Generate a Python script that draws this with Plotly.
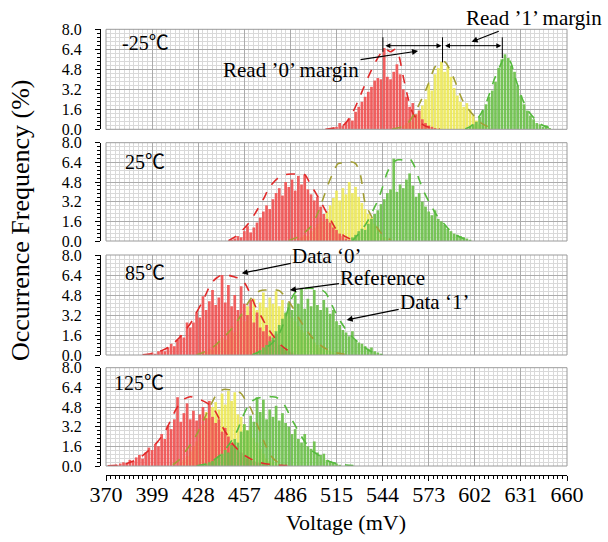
import plotly.graph_objects as go

# ---------------- data ----------------
x_range = [370, 660]
x_tick_step = 29
y_ticks = [0.0, 1.6, 3.2, 4.8, 6.4, 8.0]
panel_labels = ["-25℃", "25℃", "85℃", "125℃"]
bin_w = 2

# -25 C
red_m25_start = 513
red_m25_vals = [0.1, 0.2, 0.5, 0.3, 0.6, 0.9, 0.7, 1.4, 1.8, 2.2, 2.6, 3.0, 3.4, 3.9, 4.1, 4.0, 6.5, 4.2,
                4.0, 4.6, 5.2, 4.4, 3.2, 2.6, 1.8, 2.1, 1.2, 1.5, 0.8, 0.5, 0.3, 0.2, 0.1]
yel_m25_start = 557
yel_m25_vals = [0.3, 0.5, 0.8, 0.6, 1.2, 1.5, 1.9, 2.4, 3.6, 3.1, 4.4, 4.9, 5.4, 4.6, 5.0, 4.2, 3.3, 2.7,
                2.2, 1.8, 2.1, 1.6, 1.1, 0.7, 0.4, 0.3, 0.2, 0.1]
grn_m25_start = 599
grn_m25_vals = [0.2, 0.4, 0.6, 1.0, 1.5, 2.0, 2.6, 3.1, 3.8, 4.9, 5.6, 6.0, 5.7, 5.1, 4.6, 3.5, 2.7, 2.0,
                1.5, 1.1, 0.8, 0.5, 0.4, 0.2, 0.3, 0.1]
red_m25_fit_x = [508, 515, 520, 525, 530, 535, 540, 543, 546, 549, 552, 554, 557, 560, 563, 567, 572, 580]
red_m25_fit_y = [0.0, 0.15, 0.4, 1.3, 2.7, 4.2, 5.5, 6.1, 6.4, 6.2, 6.4, 6.0, 4.2, 2.5, 1.3, 0.6, 0.2, 0.02]
yel_m25_fit_x = [550, 556, 560, 565, 570, 573, 577, 580, 583, 587, 590, 594, 598, 602, 606, 612]
yel_m25_fit_y = [0.02, 0.2, 0.5, 1.5, 2.8, 3.7, 5.0, 5.3, 5.4, 4.6, 3.7, 2.4, 1.6, 1.0, 0.5, 0.1]
grn_m25_fit_x = [596, 600, 604, 607, 610, 614, 618, 621, 624, 628, 632, 636, 640, 645, 652]
grn_m25_fit_y = [0.02, 0.3, 0.9, 1.5, 2.4, 3.9, 5.1, 5.76, 5.5, 3.9, 2.4, 1.4, 0.8, 0.3, 0.05]

# 25 C
red_25_start = 449
red_25_vals = [0.1, 0.2, 0.4, 0.3, 0.8, 1.2, 0.7, 1.1, 1.5, 1.9, 2.4, 2.9, 2.6, 3.4, 3.9, 4.3, 3.7, 4.8,
               4.4, 5.0, 4.1, 5.3, 4.6, 5.4, 4.2, 3.8, 3.3, 3.6, 2.8, 2.2, 1.8, 1.5, 1.1, 0.9, 0.6, 0.4,
               0.2, 0.1]
yel_25_start = 491
yel_25_vals = [0.2, 0.3, 0.5, 0.4, 0.8, 1.1, 1.4, 1.9, 1.6, 2.4, 2.9, 3.5, 4.1, 3.3, 4.3, 3.8, 4.8, 3.9,
               4.4, 3.6, 3.1, 2.6, 2.2, 1.9, 1.4, 1.0, 0.5, 0.3]
grn_25_start = 525
grn_25_vals = [0.3, 0.5, 0.8, 1.0, 0.9, 1.4, 1.8, 2.2, 2.5, 3.0, 3.4, 3.9, 4.2, 6.7, 4.0, 4.6, 4.3, 5.0,
               5.5, 4.5, 3.6, 3.9, 3.2, 2.8, 2.4, 2.1, 2.5, 1.8, 1.6, 1.3, 1.0, 0.8, 0.6, 0.5, 0.4, 0.3,
               0.2, 0.1]
red_25_fit_x = [447, 452, 456, 460, 465, 469, 473, 478, 483, 487, 491, 495, 499, 502, 505, 508, 511, 514,
                517, 520, 524]
red_25_fit_y = [0.02, 0.4, 0.9, 1.5, 2.5, 3.4, 4.4, 5.1, 5.4, 5.45, 5.45, 5.4, 4.5, 3.9, 3.2, 2.5, 1.8,
                1.1, 0.7, 0.4, 0.15]
yel_25_fit_x = [485, 491, 495, 499, 503, 507, 510, 513, 516, 520, 524, 527, 530, 533, 537, 541, 545, 549]
yel_25_fit_y = [0.05, 0.35, 0.7, 1.2, 2.2, 3.6, 4.7, 5.6, 6.3, 6.35, 6.45, 6.3, 5.4, 3.1, 2.0, 1.0, 0.4, 0.1]
grn_25_fit_x = [525, 529, 532, 535, 538, 541, 544, 547, 550, 553, 557, 561, 564, 567, 570, 574, 578, 582,
                586, 590, 595, 600]
grn_25_fit_y = [0.02, 0.6, 1.1, 1.7, 2.5, 3.3, 4.4, 5.6, 6.3, 6.6, 6.6, 6.7, 6.1, 5.0, 4.0, 3.0, 2.1, 1.5,
                0.9, 0.5, 0.2, 0.05]

# 85 C
red_85_start = 397
red_85_vals = [0.1, 0.2, 0.1, 0.3, 0.4, 0.3, 0.6, 0.9, 0.7, 1.2, 1.6, 1.4, 2.6, 2.2, 2.6, 3.4, 3.0, 4.7,
               3.6, 4.3, 5.2, 4.0, 4.6, 6.4, 4.2, 5.6, 3.9, 4.8, 3.6, 5.5, 4.1, 3.2, 4.4, 2.6, 3.4, 2.2,
               1.9, 2.4, 1.5, 1.2, 1.7, 0.8, 0.6, 0.4, 0.3, 0.2]
yel_85_start = 431
yel_85_vals = [0.2, 0.3, 0.5, 0.4, 0.8, 1.0, 1.4, 1.2, 1.9, 2.3, 1.8, 2.8, 3.2, 2.7, 3.9, 3.4, 4.5, 3.6,
               4.2, 5.0, 3.8, 4.6, 4.1, 5.1, 3.9, 4.4, 3.3, 4.1, 3.0, 2.7, 2.3, 2.0, 1.8, 1.4, 1.5, 1.0,
               0.8, 0.6, 0.5, 0.4, 0.3, 0.2, 0.1]
grn_85_start = 465
grn_85_vals = [0.2, 0.4, 0.6, 0.8, 1.1, 1.4, 1.9, 2.4, 2.9, 3.4, 4.2, 3.6, 4.8, 4.1, 5.3, 3.7, 4.5, 3.9,
               5.2, 4.0, 3.6, 4.4, 3.8, 3.3, 3.6, 2.7, 2.4, 2.0, 1.8, 1.5, 1.9, 1.2, 1.0, 0.9, 0.7, 0.5,
               0.6, 0.3, 0.2, 0.1]
red_85_fit_x = [393, 400, 405, 409, 413, 417, 420, 423, 426, 430, 433, 436, 440, 444, 448, 452, 455, 458,
                461, 464, 468, 472, 476, 480, 484, 488]
red_85_fit_y = [0.02, 0.13, 0.35, 0.6, 1.0, 1.5, 2.0, 2.5, 3.2, 4.1, 4.9, 5.7, 6.2, 6.45, 6.35, 6.2, 6.1,
                5.6, 4.8, 3.9, 3.0, 2.1, 1.4, 0.8, 0.4, 0.1]
yel_85_fit_x = [427, 431, 435, 439, 443, 447, 451, 455, 459, 463, 467, 471, 475, 479, 483, 487, 491, 495,
                499, 503, 507, 511, 516, 522]
yel_85_fit_y = [0.02, 0.2, 0.45, 0.8, 1.3, 1.8, 2.4, 3.2, 4.1, 4.8, 5.15, 5.2, 5.2, 5.15, 4.6, 3.9, 3.0,
                2.2, 1.5, 1.0, 0.6, 0.35, 0.15, 0.02]
grn_85_fit_x = [462, 467, 471, 475, 479, 483, 486, 489, 492, 496, 500, 504, 508, 511, 514, 517, 520, 523,
                527, 531, 535, 539, 544]
grn_85_fit_y = [0.02, 0.3, 0.6, 1.0, 1.7, 3.0, 4.3, 5.0, 5.25, 5.33, 5.33, 5.3, 5.0, 4.3, 3.5, 2.8, 2.2,
                1.7, 1.2, 0.8, 0.4, 0.15, 0.02]

# 125 C
red_125_start = 375
red_125_vals = [0.05, 0.1, 0.2, 0.3, 0.2, 0.5, 0.4, 0.7, 0.9, 0.6, 1.1, 1.5, 1.3, 1.8, 1.6, 2.6, 2.2, 3.3,
                3.0, 3.8, 5.6, 3.6, 4.3, 5.1, 3.8, 4.5, 3.7, 4.2, 4.8, 3.9, 5.3, 4.0, 3.5, 3.8, 2.8, 3.1,
                2.4, 1.9, 1.6, 1.3, 1.1, 0.8, 0.6, 0.5, 0.4, 0.3, 0.2, 0.2, 0.1]
yel_125_start = 417
yel_125_vals = [0.3, 0.5, 0.8, 1.2, 1.6, 2.0, 2.6, 3.4, 4.4, 3.9, 4.8, 5.2, 4.6, 5.9, 5.0, 6.1, 5.3, 6.0,
                4.2, 4.0, 3.4, 2.9, 3.2, 2.3, 1.9, 1.4, 1.0, 0.6, 0.4, 0.3, 0.2, 0.1]
grn_125_start = 431
grn_125_vals = [0.1, 0.2, 0.3, 0.4, 0.6, 0.8, 1.0, 1.3, 1.1, 1.7, 2.2, 1.9, 2.8, 3.4, 2.9, 4.1, 3.6, 5.6,
                4.4, 5.4, 3.8, 4.6, 4.0, 4.9, 3.7, 4.3, 3.5, 3.2, 2.6, 3.0, 2.2, 1.9, 2.6, 1.6, 1.4, 2.0,
                1.1, 0.9, 1.0, 0.5, 0.4, 0.3, 0.2, 0.1]
red_125_fit_x = [371, 378, 383, 388, 393, 398, 402, 405, 408, 411, 414, 417, 420, 423, 427, 431, 435, 438,
                 441, 444, 447, 450, 454, 458, 463, 468, 474, 480, 486]
red_125_fit_y = [0.02, 0.08, 0.2, 0.45, 0.85, 1.4, 1.9, 2.4, 3.0, 3.8, 4.6, 5.2, 5.5, 5.64, 5.5, 5.3, 5.0,
                 4.6, 3.9, 3.0, 2.4, 1.75, 1.2, 0.8, 0.45, 0.25, 0.12, 0.05, 0.02]
yel_125_fit_x = [412, 416, 420, 424, 428, 432, 436, 440, 444, 448, 452, 455, 458, 461, 464, 467, 470, 474,
                 478, 482]
yel_125_fit_y = [0.1, 0.5, 1.2, 1.9, 2.8, 3.9, 5.0, 5.9, 6.23, 6.2, 6.1, 5.9, 5.3, 4.7, 3.7, 2.8, 1.8, 0.8,
                 0.3, 0.05]
grn_125_fit_x = [427, 434, 438, 442, 446, 450, 453, 456, 459, 462, 465, 468, 471, 474, 477, 480, 483, 486,
                 489, 492, 495, 499, 503, 507, 511, 516, 521, 528]
grn_125_fit_y = [0.02, 0.2, 0.5, 0.9, 1.5, 2.25, 3.0, 4.0, 4.8, 5.3, 5.5, 5.6, 5.64, 5.64, 5.6, 5.3, 4.8,
                 4.0, 3.3, 2.6, 2.0, 1.3, 0.95, 0.6, 0.35, 0.18, 0.08, 0.02]

# margin markers (-25 C)
margin_x = [544.2, 581.7, 619.3]
margin_bottom = [6.2, 5.35, 5.7]
margin_top = 7.36
margin_arrow_y = 6.69

# ---------------- styling ----------------
RED_BAR, YEL_BAR, GRN_BAR = "#f05252", "#eeea5a", "#6cc04a"
RED_FIT, YEL_FIT, GRN_FIT = "#e02a2a", "#a29e34", "#56ba3e"
SERIF = "Liberation Serif, Times New Roman, Noto Sans CJK SC, serif"

W, H = 608, 542
plot_l, plot_r = 106, 567
panel_px = [(29.3, 129.3), (142.7, 241.0), (255.0, 355.0), (367.7, 466.0)]

panels = [
    [(yel_m25_start, yel_m25_vals, YEL_BAR), (red_m25_start, red_m25_vals, RED_BAR), (grn_m25_start, grn_m25_vals, GRN_BAR)],
    [(yel_25_start, yel_25_vals, YEL_BAR), (red_25_start, red_25_vals, RED_BAR), (grn_25_start, grn_25_vals, GRN_BAR)],
    [(yel_85_start, yel_85_vals, YEL_BAR), (red_85_start, red_85_vals, RED_BAR), (grn_85_start, grn_85_vals, GRN_BAR)],
    [(yel_125_start, yel_125_vals, YEL_BAR), (red_125_start, red_125_vals, RED_BAR), (grn_125_start, grn_125_vals, GRN_BAR)],
]
fits = [
    [(red_m25_fit_x, red_m25_fit_y, RED_FIT), (yel_m25_fit_x, yel_m25_fit_y, YEL_FIT), (grn_m25_fit_x, grn_m25_fit_y, GRN_FIT)],
    [(red_25_fit_x, red_25_fit_y, RED_FIT), (yel_25_fit_x, yel_25_fit_y, YEL_FIT), (grn_25_fit_x, grn_25_fit_y, GRN_FIT)],
    [(red_85_fit_x, red_85_fit_y, RED_FIT), (yel_85_fit_x, yel_85_fit_y, YEL_FIT), (grn_85_fit_x, grn_85_fit_y, GRN_FIT)],
    [(red_125_fit_x, red_125_fit_y, RED_FIT), (yel_125_fit_x, yel_125_fit_y, YEL_FIT), (grn_125_fit_x, grn_125_fit_y, GRN_FIT)],
]

fig = go.Figure()
layout = dict(
    width=W, height=H, autosize=False,
    margin=dict(l=0, r=0, t=0, b=0, pad=0, autoexpand=False),
    paper_bgcolor="white", plot_bgcolor="white",
    barmode="overlay", showlegend=False,
    font=dict(family=SERIF, color="black"),
    shapes=[], annotations=[],
)

xdom = [plot_l / W, plot_r / W]
for i in range(4):
    k = i + 1
    xa = "x" if k == 1 else f"x{k}"
    ya = "y" if k == 1 else f"y{k}"
    top, bot = panel_px[i]
    ydom = [1 - bot / H, 1 - top / H]
    last = (i == 3)
    xaxis = dict(
        domain=xdom, range=x_range, tick0=370, dtick=x_tick_step,
        showgrid=True, gridcolor="#ababab", gridwidth=1, zeroline=False,
        minor=dict(dtick=2.9, tick0=370, showgrid=True, gridcolor="#d9d9d9", gridwidth=1,
                   ticks="outside" if last else "", ticklen=3, tickcolor="black", tickwidth=1),
        showline=last, linecolor="black", linewidth=1,
        ticks="outside" if last else "", ticklen=5, tickcolor="black",
        showticklabels=last, tickfont=dict(family=SERIF, size=22, color="black"),
        automargin=False, fixedrange=True,
    )
    if last:
        xaxis.update(anchor="free", position=1 - 475 / H, ticklabelstandoff=-5)
    else:
        xaxis.update(anchor=ya)
    yaxis = dict(
        domain=ydom, range=[0, 8.0001], tick0=0, dtick=1.6, tickformat=".1f",
        showgrid=True, gridcolor="#ababab", gridwidth=1, zeroline=False,
        minor=dict(dtick=0.32, tick0=0, showgrid=True, gridcolor="#d9d9d9", gridwidth=1,
                   ticks="outside", ticklen=3, tickcolor="black", tickwidth=1),
        anchor="free", position=100 / W,
        showline=True, linecolor="black", linewidth=1,
        ticks="outside", ticklen=5, tickcolor="black",
        tickfont=dict(family=SERIF, size=16, color="black"),
        ticklabelstandoff=10,
        automargin=False, fixedrange=True,
    )
    layout["xaxis" if k == 1 else f"xaxis{k}"] = xaxis
    layout["yaxis" if k == 1 else f"yaxis{k}"] = yaxis

    # bars
    for start, vals, col in panels[i]:
        xs = [start + bin_w * j for j in range(len(vals))]
        fig.add_trace(go.Bar(x=xs, y=vals, width=1.7, marker=dict(color=col, line=dict(width=0)),
                             opacity=0.92, xaxis=xa, yaxis=ya, hoverinfo="skip"))
    # fitted curves
    for fx, fy, col in fits[i]:
        fig.add_trace(go.Scatter(x=fx, y=fy, mode="lines",
                                 line=dict(color=col, width=1.6, dash="dash", shape="spline", smoothing=0.8),
                                 xaxis=xa, yaxis=ya, hoverinfo="skip", cliponaxis=True))
    # frame
    layout["shapes"].append(dict(type="rect", xref=f"{xa} domain", yref=f"{ya} domain",
                                 x0=0, x1=1, y0=0, y1=1, line=dict(color="#9a9a9a", width=1),
                                 fillcolor="rgba(0,0,0,0)", layer="above"))
    # panel label
    label_pos = [(379, 6.9), (381, 6.45), (381, 6.56), (374, 6.73)][i]
    layout["annotations"].append(dict(x=label_pos[0], y=label_pos[1], xref=xa, yref=ya,
                                      text=panel_labels[i], showarrow=False, xanchor="left", yanchor="middle",
                                      font=dict(family=SERIF, size=20, color="black")))

# margin markers in -25C panel
for mx, mb in zip(margin_x, margin_bottom):
    layout["shapes"].append(dict(type="line", xref="x", yref="y", x0=mx, x1=mx, y0=mb, y1=margin_top,
                                 line=dict(color="black", width=1)))
for a, b in [(margin_x[0], margin_x[1]), (margin_x[1], margin_x[2])]:
    layout["annotations"].append(dict(x=b, y=margin_arrow_y, ax=a, ay=margin_arrow_y, xref="x", yref="y",
                                      axref="x", ayref="y", text="", showarrow=True, arrowside="end+start",
                                      arrowhead=2, arrowsize=1, arrowwidth=1, arrowcolor="black",
                                      standoff=1, startstandoff=1))

ann_font = dict(family=SERIF, size=21, color="black")
callouts = [
    ("Read ’0’ margin", "x", "y", 566.3, 6.26, -127, 19),
    ("Read ’1’ margin", "x", "y", 600.0, 7.0, 62, -24),
    ("Data ‘0’", "x3", "y3", 455.4, 6.54, 85, -17),
    ("Reference", "x3", "y3", 485.7, 5.2, 93, -12),
    ("Data ‘1’", "x3", "y3", 521.4, 2.8, 88, -18),
]
for txt, xr, yr, hx, hy, ax, ay in callouts:
    layout["annotations"].append(dict(x=hx, y=hy, xref=xr, yref=yr, ax=ax, ay=ay, text=txt,
                                      showarrow=True, arrowhead=2, arrowsize=1, arrowwidth=1.2,
                                      arrowcolor="black", font=ann_font))

# axis titles
layout["annotations"].append(dict(x=20 / W, y=1 - 220 / H, xref="paper", yref="paper",
                                  xanchor="center", yanchor="middle",
                                  text="Occurrence Frequency (%)", textangle=-90, showarrow=False,
                                  font=dict(family=SERIF, size=26, color="black")))
layout["annotations"].append(dict(x=346 / W, y=1 - 522 / H, xref="paper", yref="paper",
                                  xanchor="center", yanchor="middle",
                                  text="Voltage (mV)", showarrow=False,
                                  font=dict(family=SERIF, size=22, color="black")))

fig.update_layout(**layout)
fig.write_html("out.html", config={"displayModeBar": False, "staticPlot": True},
               post_script="document.body.style.margin='0';document.body.style.padding='0';")
